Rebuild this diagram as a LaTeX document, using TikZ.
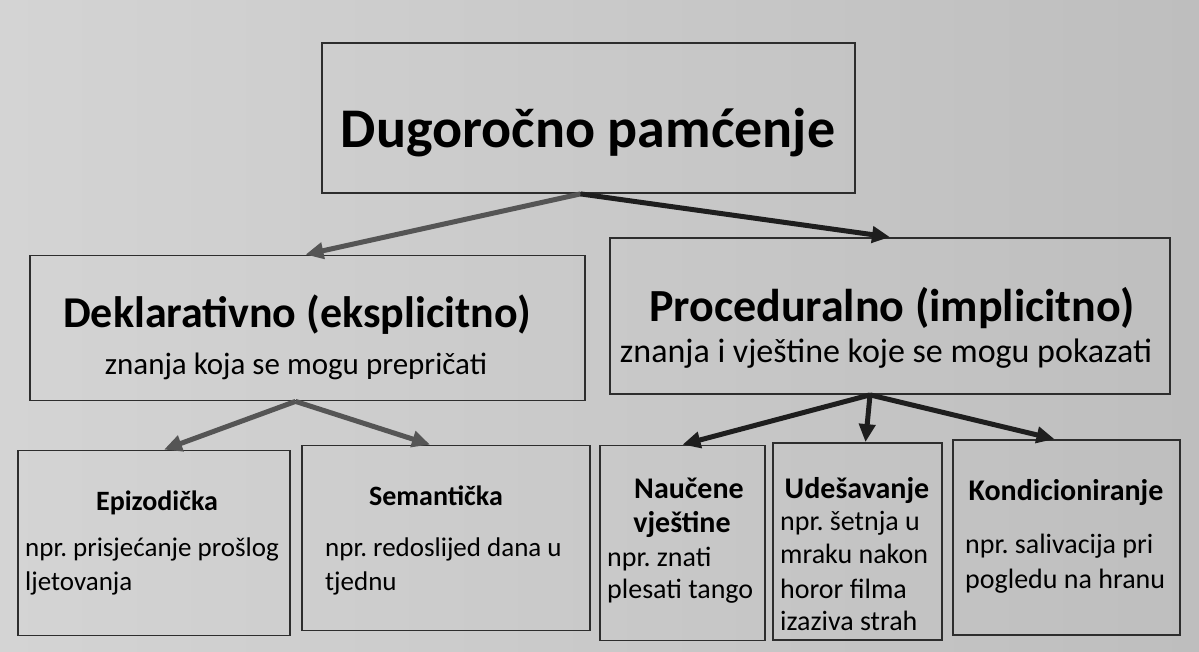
\documentclass[tikz,border=0pt]{standalone}
\usepackage{fontspec}
\setmainfont{Carlito}
\frenchspacing
\usetikzlibrary{arrows.meta}
\definecolor{bgL}{RGB}{212,212,212}
\definecolor{bgR}{RGB}{190,190,190}
\definecolor{edge}{RGB}{45,45,45}
\definecolor{arrL}{RGB}{85,85,85}
\definecolor{arrR}{RGB}{30,30,30}
\tikzset{
  box/.style={draw=edge, line width=1.8pt, rectangle, inner sep=0pt},
  conn/.style={line width=5pt, -{Triangle[length=18pt,width=16pt]}},
  txt/.style={inner sep=0pt, text=black},
  big/.style={txt, font=\bfseries\fontsize{56}{60}\selectfont, anchor=base},
  midL/.style={txt, font=\bfseries\fontsize{44}{50}\selectfont, anchor=base},
  midR/.style={txt, font=\bfseries\fontsize{46}{50}\selectfont, anchor=base},
  subL/.style={txt, font=\fontsize{31}{36}\selectfont, anchor=base},
  subR/.style={txt, font=\fontsize{34}{40}\selectfont, anchor=base},
  smallL/.style={txt, font=\bfseries\fontsize{28}{34}\selectfont, anchor=base},
  smallR/.style={txt, font=\bfseries\fontsize{30}{34}\selectfont, anchor=base},
  bodyL/.style={txt, font=\fontsize{27}{33}\selectfont, anchor=base west},
  bodyR/.style={txt, font=\fontsize{28}{33}\selectfont, anchor=base west},
}
\begin{document}
\begin{tikzpicture}[x=1pt,y=-1pt]
\useasboundingbox (0,0) rectangle (1199,652);
\shade[left color=bgL, right color=bgR] (0,0) rectangle (1199,652);
% boxes
\node[box, minimum width=533pt, minimum height=150pt] (top) at (588.5,118) {};
\node[box, minimum width=555pt, minimum height=145pt] (dek) at (307.5,328) {};
\node[box, minimum width=560pt, minimum height=156pt] (pro) at (890,316) {};
\node[box, minimum width=272pt, minimum height=185pt] (epi) at (154,543) {};
\node[box, minimum width=288pt, minimum height=185pt] (sem) at (446,538) {};
\node[box, minimum width=165pt, minimum height=195pt] (nau) at (682.5,543) {};
\node[box, minimum width=169pt, minimum height=197pt] (ude) at (857.5,541.5) {};
\node[box, minimum width=227pt, minimum height=195pt] (kon) at (1066.5,537.5) {};
% texts
\node[big] (t1) at (588,148) {Dugoročno pamćenje};
\node[midL] (t2) at (297,327) {Deklarativno (eksplicitno)};
\node[subL] (t3) at (296,374) {znanja koja se mogu prepričati};
\node[midR] (t4) at (892,321) {Proceduralno (implicitno)};
\node[subR] (t5) at (886,362) {znanja i vještine koje se mogu pokazati};
\node[smallL] (e1) at (157,510) {Epizodička};
\node[bodyL] (e2) at (25,556) {npr. prisjećanje prošlog};
\node[bodyL] (e3) at (25,590) {ljetovanja};
\node[smallL] (s1) at (436,505) {Semantička};
\node[bodyL] (s2) at (325,556) {npr. redoslijed dana u};
\node[bodyL] (s3) at (325,590) {tjednu};
\node[smallR] (n1) at (689,498) {Naučene};
\node[smallR] (n2) at (682,532) {vještine};
\node[bodyR] (n3) at (607,566) {npr. znati};
\node[bodyR] (n4) at (607,598) {plesati tango};
\node[smallR] (u1) at (857,498) {Udešavanje};
\node[bodyR] (u2) at (780,530) {npr. šetnja u};
\node[bodyR] (u3) at (780,563) {mraku nakon};
\node[bodyR] (u4) at (780,598) {horor filma};
\node[bodyR] (u5) at (780,630) {izaziva strah};
\node[smallR] (k1) at (1066,500) {Kondicioniranje};
\node[bodyR] (k2) at (965,553) {npr. salivacija pri};
\node[bodyR] (k3) at (965,588) {pogledu na hranu};
% connectors
\draw[conn, arrL] ([xshift=-8pt]top.south) -- ([xshift=-2pt]dek.north);
\draw[conn, arrR] ([xshift=-8pt]top.south) -- (pro.north);
\draw[conn, arrL] ([xshift=-12pt]dek.south) -- ([xshift=10pt]epi.north);
\draw[conn, arrL] ([xshift=-12pt]dek.south) -- ([xshift=-16pt]sem.north);
\draw[conn, arrR] ([xshift=-20pt]pro.south) -- (nau.north);
\draw[conn, arrR] ([xshift=-20pt]pro.south) -- ([xshift=8pt]ude.north);
\draw[conn, arrR] ([xshift=-20pt]pro.south) -- ([xshift=-12pt]kon.north);
\end{tikzpicture}
\end{document}
